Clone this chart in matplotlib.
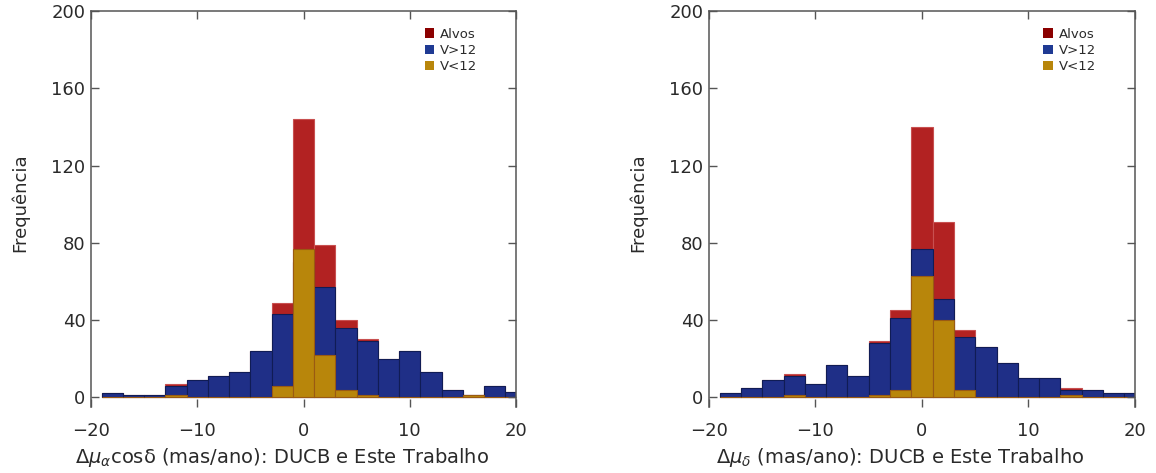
import numpy as np
import matplotlib.pyplot as plt
from matplotlib.patches import Patch

# bins de 2 mas/ano, centrados em numeros pares
centros = np.arange(-18, 21, 2)

# painel esquerdo: Delta mu_alpha cos(delta)
alvos_a = [2, 1, 1, 7, 9, 11, 13, 24, 49, 144, 79, 40, 30, 20, 24, 13, 4, 1, 6, 3]
vmaior_a = [2, 1, 1, 6, 9, 11, 13, 24, 43, 70, 57, 36, 29, 20, 24, 13, 4, 1, 6, 3]
vmenor_a = [0, 0, 0, 1, 0, 0, 0, 0, 6, 77, 22, 4, 1, 0, 0, 0, 0, 1, 0, 0]

# painel direito: Delta mu_delta
alvos_d = [2, 5, 9, 12, 7, 17, 11, 29, 45, 140, 91, 35, 26, 18, 10, 10, 5, 4, 2, 2]
vmaior_d = [2, 5, 9, 11, 7, 17, 11, 28, 41, 77, 51, 31, 26, 18, 10, 10, 4, 4, 2, 2]
vmenor_d = [0, 0, 0, 1, 0, 0, 0, 1, 4, 63, 40, 4, 0, 0, 0, 0, 1, 0, 0, 0]

xticks = [-20, -10, 0, 10, 20]
yticks = [0, 40, 80, 120, 160, 200]

cor_red, cor_blue, cor_gold = '#B22222', '#1F2F87', '#B8860B'
cor_txt = '#2a2a2a'
cor_axis = '#555555'

plt.rcParams['font.family'] = 'DejaVu Sans'

fig = plt.figure(figsize=(11.56, 4.73), dpi=100)
ax1 = fig.add_axes([0.0787, 0.1395, 0.3677, 0.8372])
ax2 = fig.add_axes([0.6133, 0.1395, 0.3685, 0.8372])

paineis = [
    (ax1, alvos_a, vmaior_a, vmenor_a,
     r'Δ$\mu_\alpha$cosδ (mas/ano): DUCB e Este Trabalho'),
    (ax2, alvos_d, vmaior_d, vmenor_d,
     r'Δ$\mu_\delta$ (mas/ano): DUCB e Este Trabalho'),
]

for ax, alvos, vmaior, vmenor, xlab in paineis:
    ax.bar(centros, alvos, width=2, color=cor_red, edgecolor='#C85050', linewidth=0.8)
    ax.bar(centros, vmaior, width=2, color=cor_blue, edgecolor='#101C55', linewidth=0.8)
    ax.bar(centros, vmenor, width=2, color=cor_gold, edgecolor='#9A5A12', linewidth=0.8)

    ax.set_xlim(-20, 20)
    ax.set_ylim(-5, 200)
    ax.set_xticks(xticks)
    ax.set_xticklabels(['\u221220', '\u221210', '0', '10', '20'])
    ax.set_yticks(yticks)

    ax.spines['bottom'].set_visible(False)
    for s in ['left', 'right', 'top']:
        ax.spines[s].set_color(cor_axis)
        ax.spines[s].set_linewidth(1.1)

    ax.tick_params(axis='both', direction='in', length=6, width=1, color=cor_axis,
                   labelsize=13, labelcolor=cor_txt, top=True, right=True)
    ax.tick_params(axis='x', pad=11)
    ax.tick_params(axis='y', pad=4)

    ax.set_xlabel(xlab, fontsize=14, color=cor_txt)
    ax.xaxis.set_label_coords(0.45, -0.098)
    ax.set_ylabel('Frequência', fontsize=13, color=cor_txt)
    ax.yaxis.set_label_coords(-0.145, 0.515)

    handles = [Patch(facecolor='#8B0000', label='Alvos'),
               Patch(facecolor='#1F3A93', label='V>12'),
               Patch(facecolor='#B8860B', label='V<12')]
    leg = ax.legend(handles=handles, loc='upper left', bbox_to_anchor=(0.785, 0.958),
                    frameon=False, fontsize=9.5, handlelength=0.7, handleheight=0.7,
                    handletextpad=0.45, labelspacing=0.25, borderpad=0, borderaxespad=0)
    for t in leg.get_texts():
        t.set_color(cor_txt)

fig.savefig('out.png', dpi=100)
